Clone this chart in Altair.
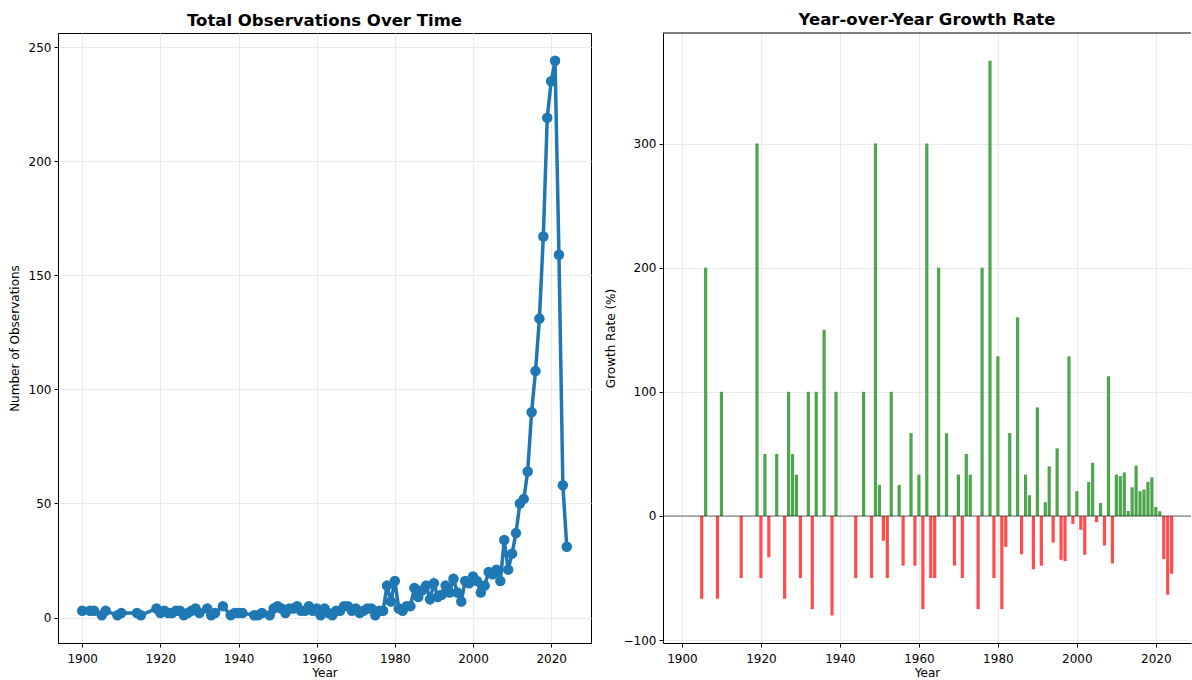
import altair as alt
import pandas as pd

# Yearly observation counts
years = [
    1900, 1902, 1903, 1905, 1906, 1909, 1910, 1914, 1915, 1919,
    1920, 1921, 1922, 1923, 1924, 1925, 1926, 1927, 1928, 1929,
    1930, 1932, 1933, 1934, 1936, 1938, 1939, 1940, 1941, 1944,
    1945, 1946, 1948, 1949, 1950, 1951, 1952, 1953, 1954, 1955,
    1956, 1957, 1958, 1959, 1960, 1961, 1962, 1963, 1964, 1965,
    1966, 1967, 1968, 1969, 1970, 1971, 1972, 1973, 1974, 1975,
    1976, 1977, 1978, 1979, 1980, 1981, 1982, 1983, 1984, 1985,
    1986, 1987, 1988, 1989, 1990, 1991, 1992, 1993, 1994, 1995,
    1996, 1997, 1998, 1999, 2000, 2001, 2002, 2003, 2004, 2005,
    2006, 2007, 2008, 2009, 2010, 2011, 2012, 2013, 2014, 2015,
    2016, 2017, 2018, 2019, 2020, 2021, 2022, 2023, 2024,
]
counts = [
    3, 3, 3, 1, 3, 1, 2, 2, 1, 4,
    2, 3, 2, 2, 3, 3, 1, 2, 3, 4,
    2, 4, 1, 2, 5, 1, 2, 2, 2, 1,
    1, 2, 1, 4, 5, 4, 2, 4, 4, 5,
    3, 3, 5, 3, 4, 1, 4, 2, 1, 3,
    3, 5, 5, 3, 4, 2, 3, 4, 4, 1,
    3, 3, 14, 7, 16, 4, 3, 5, 5, 13,
    9, 12, 14, 8, 15, 9, 10, 14, 11, 17,
    11, 7, 16, 15, 18, 16, 11, 14, 20, 19,
    21, 16, 34, 21, 28, 37, 50, 52, 64, 90,
    108, 131, 167, 219, 235, 244, 159, 58, 31,
]

# Year-over-year growth (%) for every year after the first
growth_years = years[1:]
growth_pct = [
    0.0, 0.0, -66.7, 200.0, -66.7, 100.0, 0.0, -50.0, 300.0,
    -50.0, 50.0, -33.3, 0.0, 50.0, 0.0, -66.7, 100.0, 50.0, 33.3,
    -50.0, 100.0, -75.0, 100.0, 150.0, -80.0, 100.0, 0.0, 0.0, -50.0,
    0.0, 100.0, -50.0, 300.0, 25.0, -20.0, -50.0, 100.0, 0.0, 25.0,
    -40.0, 0.0, 66.7, -40.0, 33.3, -75.0, 300.0, -50.0, -50.0, 200.0,
    0.0, 66.7, 0.0, -40.0, 33.3, -50.0, 50.0, 33.3, 0.0, -75.0,
    200.0, 0.0, 366.7, -50.0, 128.6, -75.0, -25.0, 66.7, 0.0, 160.0,
    -30.8, 33.3, 16.7, -42.9, 87.5, -40.0, 11.1, 40.0, -21.4, 54.5,
    -35.3, -36.4, 128.6, -6.3, 20.0, -11.1, -31.3, 27.3, 42.9, -5.0,
    10.5, -23.8, 112.5, -38.2, 33.3, 32.1, 35.1, 4.0, 23.1, 40.6,
    20.0, 21.3, 27.5, 31.1, 7.3, 3.8, -34.8, -63.5, -46.6,
]

year_ticks = [1900, 1920, 1940, 1960, 1980, 2000, 2020]
count_ticks = [0, 50, 100, 150, 200, 250]
growth_ticks = [-100, 0, 100, 200, 300]

obs = pd.DataFrame({"Year": years, "Count": counts})
yoy = pd.DataFrame({"Year": growth_years, "Growth": growth_pct})
baseline = pd.DataFrame({"Growth": [0]})

FONT = "DejaVu Sans"
BLUE = "#1f77b4"
GREEN = "#4da64d"
RED = "#ff4d4d"

L_W, L_H = 533, 610
R_W, R_H = 528, 610

# Left panel: counts over time
x_left = alt.X(
    "Year:Q",
    scale=alt.Scale(domain=[1893.8, 2030.2], nice=False, zero=False),
    axis=alt.Axis(values=year_ticks, format="d", title="Year"),
)
y_left = alt.Y(
    "Count:Q",
    scale=alt.Scale(domain=[-11.15, 256.15], nice=False, zero=False),
    axis=alt.Axis(values=count_ticks, format="d", title="Number of Observations",
                  titlePadding=7),
)
base_left = alt.Chart(obs).encode(x=x_left, y=y_left)
line = base_left.mark_line(color=BLUE, strokeWidth=3.5)
dots = base_left.mark_circle(color=BLUE, size=110, opacity=1)
left = alt.layer(line, dots).properties(
    width=L_W,
    height=L_H,
    title=alt.TitleParams("Total Observations Over Time"),
)

# Right panel: year-over-year growth bars
x_right = alt.X(
    "Year:Q",
    scale=alt.Scale(domain=[1895.2, 2028.9], nice=False, zero=False, padding=0),
    axis=alt.Axis(values=year_ticks, format="d", title="Year"),
)
y_right = alt.Y(
    "Growth:Q",
    scale=alt.Scale(domain=[-102.3, 389.0], nice=False, zero=False),
    axis=alt.Axis(values=growth_ticks, format="d", title="Growth Rate (%)",
                  titlePadding=6),
)
bars = alt.Chart(yoy).mark_bar(width=3.2).encode(
    x=x_right,
    y=y_right,
    y2=alt.Y2(datum=0),
    color=alt.condition(alt.datum.Growth > 0, alt.value(GREEN), alt.value(RED)),
)
zero_line = alt.Chart(baseline).mark_rule(color="black", opacity=0.4, strokeWidth=1.3).encode(
    x=alt.value(0), x2=alt.value(R_W), y=alt.Y("Growth:Q")
)
top_spine = alt.Chart(baseline).mark_rule(color="black", strokeWidth=1).encode(
    x=alt.value(0), x2=alt.value(R_W), y=alt.value(0)
)
right = alt.layer(bars, zero_line, top_spine).properties(
    width=R_W,
    height=R_H,
    title=alt.TitleParams("Year-over-Year Growth Rate"),
    view=alt.ViewBackground(stroke=None),
)

chart = (
    alt.hconcat(left, right, spacing=12)
    .properties(padding={"left": 7, "top": 12, "right": 0, "bottom": 0})
    .configure_view(stroke="black", strokeWidth=1)
    .configure_axis(
        labelFont=FONT,
        titleFont=FONT,
        labelFontSize=12,
        titleFontSize=12,
        titleFontWeight="normal",
        labelColor="black",
        titleColor="black",
        domainColor="black",
        tickColor="black",
        tickSize=4,
        labelPadding=3,
        gridColor="#ebebeb",
        gridWidth=1,
    )
    .configure_axisX(labelPadding=6.5, titlePadding=2.5)
    .configure_title(font=FONT, fontSize=16.5, fontWeight="bold", color="black",
                     anchor="middle", offset=4)
)

chart.save("out.html", embed_options={"renderer": "svg", "actions": False})
